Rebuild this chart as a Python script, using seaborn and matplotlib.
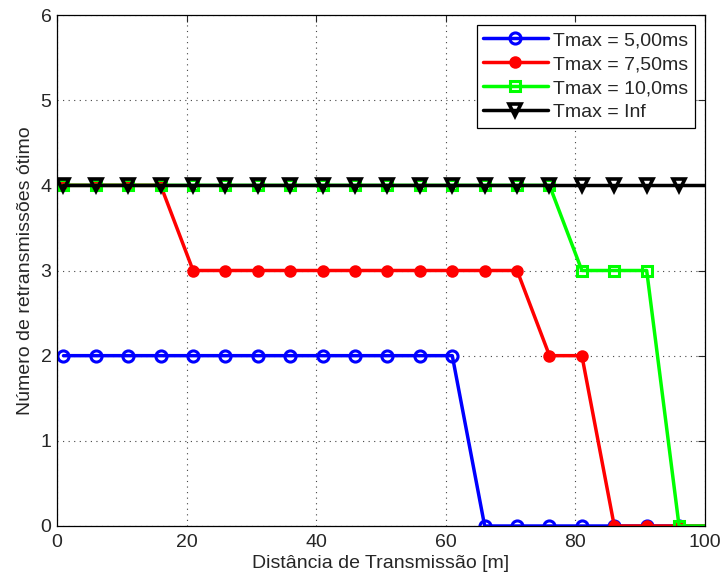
import numpy as np
import pandas as pd
import matplotlib
matplotlib.use("Agg")
import matplotlib.pyplot as plt
import seaborn as sns

distance = [1, 6, 11, 16, 21, 26, 31, 36, 41, 46, 51, 56, 61, 66, 71, 76, 81, 86, 91, 96, 101]
tmax_5 = [2, 2, 2, 2, 2, 2, 2, 2, 2, 2, 2, 2, 2, 0, 0, 0, 0, 0, 0, 0, 0]
tmax_75 = [4, 4, 4, 4, 3, 3, 3, 3, 3, 3, 3, 3, 3, 3, 3, 2, 2, 0, 0, 0, 0]
tmax_10 = [4, 4, 4, 4, 4, 4, 4, 4, 4, 4, 4, 4, 4, 4, 4, 4, 3, 3, 3, 0, 0]
tmax_inf = [4] * 21
labels = ["Tmax = 5,00ms", "Tmax = 7,50ms", "Tmax = 10,0ms", "Tmax = Inf"]

sns.set_style("white")
plt.rcParams["font.family"] = ["Liberation Sans", "DejaVu Sans"]

fig = plt.figure(figsize=(7.21, 5.77), dpi=100)
ax = fig.add_axes([57 / 721, 1 - 526 / 577, (705 - 57) / 721, (526 - 15) / 577])

styles = [
    dict(color="#0000ff", marker="o", mfc="none", mec="#0000ff", ms=8, mew=2.2),
    dict(color="#ff0000", marker="o", mfc="#ff0000", mec="#ff0000", ms=7.5, mew=1.5),
    dict(color="#00ff00", marker="s", mfc="none", mec="#00ff00", ms=7.5, mew=2.2),
    dict(color="#000000", marker="v", mfc="none", mec="#000000", ms=8.5, mew=2.6),
]
series = [tmax_5, tmax_75, tmax_10, tmax_inf]
inside = [i for i, d in enumerate(distance) if d <= 100]
for vals, lab, st in zip(series, labels, styles):
    df = pd.DataFrame({"x": distance, "y": vals})
    sns.lineplot(data=df, x="x", y="y", ax=ax, label=lab, lw=2.5,
                 marker=st["marker"], markersize=st["ms"], markerfacecolor=st["mfc"],
                 markeredgecolor=st["mec"], markeredgewidth=st["mew"], color=st["color"],
                 markevery=inside)

ax.set_xlim(0, 100)
ax.set_ylim(0, 6)
ax.set_xticks([0, 20, 40, 60, 80, 100])
ax.set_yticks([0, 1, 2, 3, 4, 5, 6])
ax.grid(True, linestyle=(0, (1, 4)), color="#444444", linewidth=0.8)
ax.tick_params(direction="in", length=5, top=True, right=True, labelsize=14, width=0.8)
ax.tick_params(axis="x", pad=6)
ax.tick_params(axis="y", pad=4)
for s in ax.spines.values():
    s.set_color("black")
    s.set_linewidth(0.9)
ax.set_xlabel("Distância de Transmissão [m]", fontsize=14, labelpad=3)
ax.set_ylabel("Número de retransmissões ótimo", fontsize=14, labelpad=5)

leg = ax.legend(loc="upper right", fontsize=14, frameon=True, fancybox=False,
                edgecolor="black", framealpha=1, handlelength=3.3, borderpad=0.35,
                labelspacing=0.33, handletextpad=0.3, borderaxespad=0.5)
leg.get_frame().set_linewidth(0.9)

fig.savefig("out.png", dpi=100)
